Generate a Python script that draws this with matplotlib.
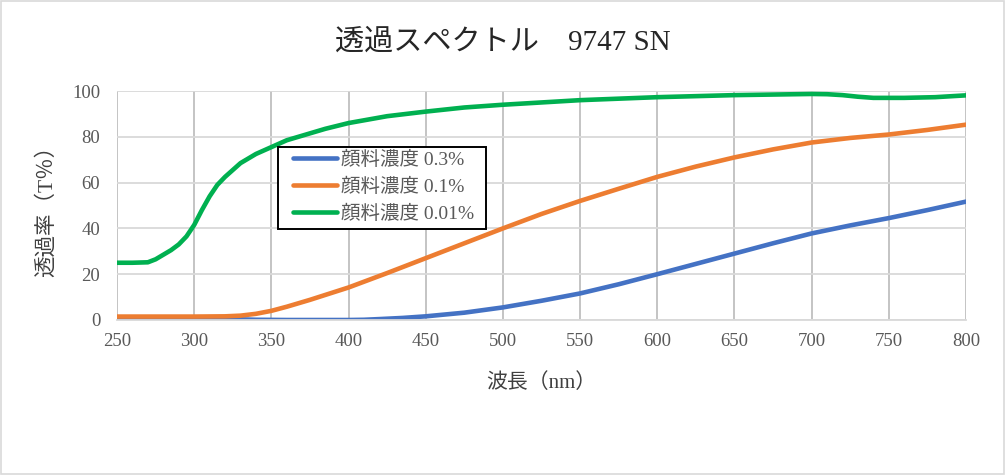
import numpy as np
import matplotlib.pyplot as plt
from matplotlib.patches import Rectangle

# 読み取った値 (nm, T%)
wl_blue = [250, 300, 330, 340, 360, 380, 400, 410, 420, 435, 450, 475, 500, 525, 550,
           575, 600, 625, 650, 675, 700, 725, 750, 775, 800]
t_blue = [0.4, 0.4, 0.3, 0.1, 0.0, 0.0, 0.0, 0.1, 0.4, 0.9, 1.6, 3.2, 5.5, 8.4, 11.6,
          15.6, 20.0, 24.5, 29.0, 33.5, 37.8, 41.3, 44.5, 48.0, 51.7]

wl_orange = [250, 280, 300, 320, 330, 340, 350, 360, 375, 400, 425, 450, 475, 500, 525,
             550, 575, 600, 625, 650, 675, 700, 725, 750, 775, 800]
t_orange = [1.5, 1.5, 1.5, 1.6, 1.9, 2.7, 4.0, 5.8, 8.8, 14.2, 20.5, 27.0, 33.5, 40.0, 46.3,
            52.0, 57.3, 62.5, 67.0, 71.0, 74.5, 77.5, 79.5, 81.0, 83.0, 85.3]

wl_green = [250, 260, 270, 275, 280, 285, 290, 295, 300, 305, 310, 315, 320, 330, 340,
            350, 360, 370, 385, 400, 425, 450, 475, 500, 550, 600, 650, 700, 710, 720,
            730, 740, 760, 780, 800]
t_green = [25.0, 25.0, 25.2, 26.5, 28.5, 30.5, 33.0, 36.5, 41.5, 48.0, 54.0, 59.0, 62.5, 68.5, 72.5,
           75.5, 78.5, 80.5, 83.5, 86.0, 89.0, 91.0, 92.8, 94.0, 96.0, 97.3, 98.2, 98.7, 98.6, 98.2,
           97.5, 97.0, 97.0, 97.3, 98.1]

series_labels = ['顔料濃度 0.3%', '顔料濃度 0.1%', '顔料濃度 0.01%']
colors = ['#4472C4', '#ED7D31', '#00B050']

fam = ['Liberation Serif', 'Noto Sans CJK JP']
plt.rcParams['font.family'] = fam

W, H = 1006, 475
fig = plt.figure(figsize=(W / 100, H / 100), dpi=100)
ax = fig.add_axes([117 / W, 1 - 320 / H, (966 - 117) / W, (320 - 91) / H])

for wl, t, lab, c in zip([wl_blue, wl_orange, wl_green], [t_blue, t_orange, t_green],
                         series_labels, colors):
    ax.plot(wl, t, color=c, lw=3.3, label=lab, solid_capstyle='round')

ax.set_xlim(250, 800)
ax.set_ylim(0, 100)
ax.set_xticks(np.arange(250, 801, 50))
ax.set_yticks(np.arange(0, 101, 20))
ax.grid(axis='y', color='#D9D9D9', lw=1.3)
ax.grid(axis='x', color='#BFBFBF', lw=1.3)
ax.set_axisbelow(True)
for s in ['top', 'left', 'right']:
    ax.spines[s].set_visible(False)
ax.spines['bottom'].set_color('#D9D9D9')
ax.spines['bottom'].set_linewidth(1.3)
ax.tick_params(length=0, labelsize=13.5, labelcolor='#595959', pad=9)
ax.tick_params(axis='y', pad=12)

ax.set_xlabel('波長（nm）', fontsize=15, color='#404040', labelpad=17)
ax.set_ylabel('透過率（T％）', fontsize=15.5, color='#404040', labelpad=11)
fig.text(0.5, 1 - 42 / H, '透過スペクトル　9747 SN', ha='center', va='center',
         fontsize=21, color='#262626')

# 凡例の枠 (Excel風の黒枠)
ax.add_patch(Rectangle((278 / W, 1 - 229 / H), (486 - 278) / W, (229 - 147) / H,
                       transform=fig.transFigure, facecolor='white', edgecolor='black',
                       lw=1.4, zorder=4, clip_on=False))
leg = ax.legend(loc='upper left', bbox_to_anchor=(293 / W, 1 - 151 / H),
                bbox_transform=fig.transFigure, frameon=False, fontsize=14,
                handlelength=2.25, borderpad=0, labelspacing=0.45, handletextpad=0.2,
                borderaxespad=0)
leg.set_zorder(5)
for txt in leg.get_texts():
    txt.set_color('#595959')

fig.patches.append(Rectangle((0.001, 0.002), 0.997, 0.995, transform=fig.transFigure,
                             fill=False, edgecolor='#D9D9D9', lw=1.2))

fig.savefig('out.png', dpi=100)
